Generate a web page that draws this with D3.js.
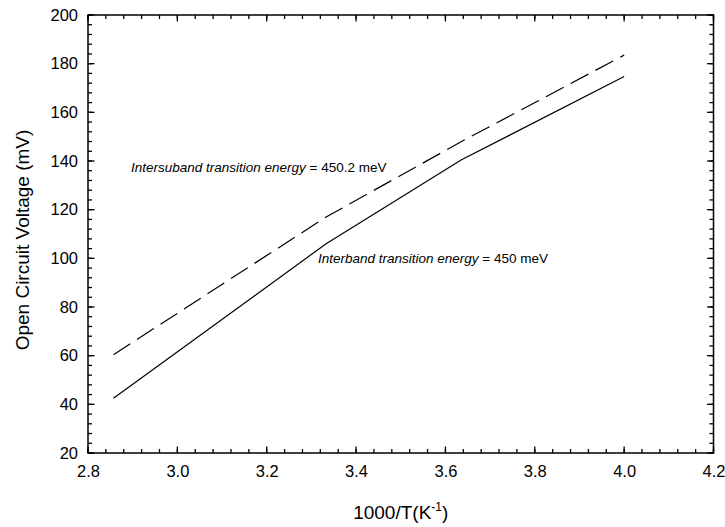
<!DOCTYPE html>
<html>
<head>
<meta charset="utf-8">
<style>
  body { margin: 0; background: #fff; font-family: "Liberation Sans", Arial, sans-serif; }
  .domain { display: none; }
  .tick line { display: none; }
</style>
</head>
<body>
<script src="https://cdn.jsdelivr.net/npm/d3@7"></script>
<script>
// data
var invT = [2.857, 3.333, 3.636, 4.0];               // 1000/T (1/K)
var vocInterband = [42.5, 106, 140.5, 174.7];        // mV, solid
var vocIntersub  = [60.4, 117, 148, 183.5];          // mV, dashed
var xTicks = [2.8, 3.0, 3.2, 3.4, 3.6, 3.8, 4.0, 4.2];
var yTicks = [20, 40, 60, 80, 100, 120, 140, 160, 180, 200];

var W = 725, H = 527;
var margin = {top: 15, right: 11.5, bottom: 74, left: 88},
    width = W - margin.left - margin.right,
    height = H - margin.top - margin.bottom;

var x = d3.scaleLinear().domain([2.8, 4.2]).range([0, width]);
var y = d3.scaleLinear().domain([20, 200]).range([height, 0]);

var svg = d3.select('body').append('svg')
    .attr('width', W).attr('height', H)
  .append('g')
    .attr('transform', `translate(${margin.left},${margin.top})`);

var font = '"Liberation Sans", Arial, sans-serif';

// tick labels from d3 axes (tick marks drawn separately below)
var xAxis = svg.append('g').attr('transform', `translate(0,${height})`)
  .call(d3.axisBottom(x).tickValues(xTicks).tickSize(0).tickPadding(12).tickFormat(d3.format('.1f')));
xAxis.selectAll('text').attr('font-size', 16.5).attr('font-family', font).attr('fill', 'black');

var yAxis = svg.append('g')
  .call(d3.axisLeft(y).tickValues(yTicks).tickSize(0).tickPadding(10).tickFormat(d3.format('d')));
yAxis.selectAll('text').attr('font-size', 16.5).attr('font-family', font).attr('fill', 'black');

// inward tick marks on all four sides
var xMinor = d3.range(2.8, 4.2001, 0.04), yMinor = d3.range(20, 200.01, 4);
var tk = svg.append('g').attr('stroke', 'black').attr('stroke-width', 1.3);
function xt(vals, len) {
  vals.forEach(function(v) {
    tk.append('line').attr('x1', x(v)).attr('x2', x(v)).attr('y1', height).attr('y2', height - len);
    tk.append('line').attr('x1', x(v)).attr('x2', x(v)).attr('y1', 0).attr('y2', len);
  });
}
function yt(vals, len) {
  vals.forEach(function(v) {
    tk.append('line').attr('y1', y(v)).attr('y2', y(v)).attr('x1', 0).attr('x2', len);
    tk.append('line').attr('y1', y(v)).attr('y2', y(v)).attr('x1', width).attr('x2', width - len);
  });
}
xt(xMinor, 4); xt(xTicks, 6.5);
yt(yMinor, 4); yt(yTicks, 6.5);

svg.append('rect')
  .attr('fill', 'none').attr('stroke', 'black').attr('stroke-width', 1.5)
  .attr('width', width).attr('height', height);

var line = d3.line().x((d, i) => x(invT[i])).y(d => y(d));

svg.append('path').datum(vocInterband)
  .attr('fill', 'none').attr('stroke', 'black').attr('stroke-width', 1.2)
  .attr('d', line);
svg.append('path').datum(vocIntersub)
  .attr('fill', 'none').attr('stroke', 'black').attr('stroke-width', 1.2)
  .attr('stroke-dasharray', '20,8').attr('d', line);

// annotations
function note(xv, yv, italic, rest) {
  var t = svg.append('text').attr('x', x(xv)).attr('y', y(yv)).attr('font-size', 13.5);
  t.append('tspan').attr('font-style', 'italic').text(italic);
  t.append('tspan').text(rest);
}
note(2.896, 135.5, 'Intersuband transition energy', ' = 450.2 meV');
note(3.3148, 98.2, 'Interband transition energy', ' = 450 meV');

// axis titles
var xTitle = svg.append('text').attr('x', x(3.5)).attr('y', height + 66)
  .attr('text-anchor', 'middle').attr('font-size', 19);
xTitle.append('tspan').text('1000/T(K');
xTitle.append('tspan').attr('font-size', 12).attr('dy', -8).text('-1');
xTitle.append('tspan').attr('dy', 8).text(')');

svg.append('text')
  .attr('transform', `translate(${29 - margin.left},${240 - margin.top}) rotate(-90)`)
  .attr('text-anchor', 'middle').attr('font-size', 19)
  .text('Open Circuit Voltage (mV)');
</script>
</body>
</html>
